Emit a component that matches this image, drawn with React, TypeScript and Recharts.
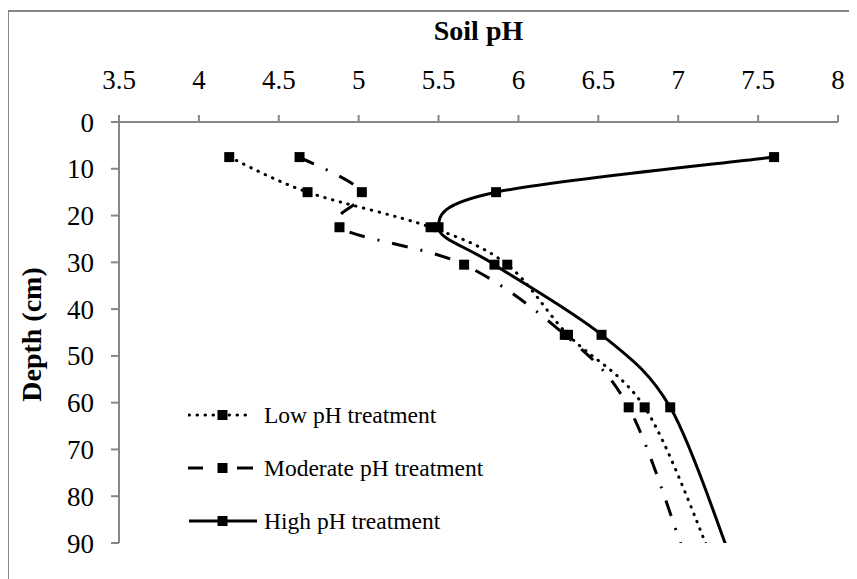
import React from 'react';
import { LineChart, Line, XAxis, YAxis, Legend, Label } from 'recharts';

// ---- data ----
const depths = [7.5, 15, 22.5, 30.5, 45.5, 61, 91.5];
const lowPH = [4.19, 4.68, 5.45, 5.93, 6.31, 6.79, 7.19];
const moderatePH = [4.63, 5.02, 4.88, 5.66, 6.29, 6.69, 7.03];
const highPH = [7.6, 5.86, 5.5, 5.85, 6.52, 6.95, 7.31];
const markedCount = 6; // last row only continues the line to the bottom edge
const phTicks = [3.5, 4, 4.5, 5, 5.5, 6, 6.5, 7, 7.5, 8];
const depthTicks = [0, 10, 20, 30, 40, 50, 60, 70, 80, 90];
const seriesKeys = ['low', 'moderate', 'high'];
const seriesNames = ['Low pH treatment', 'Moderate pH treatment', 'High pH treatment'];

const rows = depths.map((d, i) => ({
  depth: d,
  low: lowPH[i],
  moderate: moderatePH[i],
  high: highPH[i],
}));

const FONT = '"Liberation Serif", "Times New Roman", serif';
const AXIS_GRAY = '#868686';

const dashStyles: Record<string, { dash?: string; cap: 'round' | 'butt' }> = {
  low: { dash: '0.5 7.5', cap: 'round' },
  moderate: { dash: '16 13 2 13', cap: 'butt' },
  high: { dash: undefined, cap: 'butt' },
};

// Excel-like smoothed line (Catmull-Rom through points)
function excelSmooth(context: any) {
  let pts: [number, number][] = [];
  return {
    areaStart() {},
    areaEnd() {},
    lineStart() {
      pts = [];
    },
    lineEnd() {
      const n = pts.length;
      if (n === 0) return;
      context.moveTo(pts[0][0], pts[0][1]);
      for (let i = 0; i < n - 1; i++) {
        const p0 = pts[Math.max(0, i - 1)];
        const p1 = pts[i];
        const p2 = pts[i + 1];
        const p3 = pts[Math.min(n - 1, i + 2)];
        context.bezierCurveTo(
          p1[0] + (p2[0] - p0[0]) / 6,
          p1[1] + (p2[1] - p0[1]) / 6,
          p2[0] - (p3[0] - p1[0]) / 6,
          p2[1] - (p3[1] - p1[1]) / 6,
          p2[0],
          p2[1]
        );
      }
    },
    point(x: number, y: number) {
      pts.push([+x, +y]);
    },
  };
}

const makeDot = (key: string) => (props: any) => {
  const { cx, cy, index } = props;
  if (index >= markedCount || cx == null || cy == null) {
    return <g key={`${key}-${index}`} />;
  }
  return <rect key={`${key}-${index}`} x={cx - 5} y={cy - 5} width={10} height={10} fill="#000" />;
};

const LegendBox = () => (
  <div style={{ fontFamily: FONT, fontSize: 23.5, color: '#000' }}>
    {seriesKeys.map((k, i) => {
      const st = dashStyles[k];
      return (
        <div key={k} style={{ display: 'flex', alignItems: 'center', height: 53 }}>
          <svg width={70} height={14} style={{ display: 'block' }}>
            {k === 'moderate' ? (
              <g stroke="#000" strokeWidth={3}>
                <line x1={0} y1={7} x2={15} y2={7} />
                <line x1={49} y1={7} x2={65} y2={7} />
              </g>
            ) : (
              <line
                x1={1}
                y1={7}
                x2={k === 'high' ? 69 : 65}
                y2={7}
                stroke="#000"
                strokeWidth={3}
                strokeDasharray={st.dash}
                strokeLinecap={st.cap}
              />
            )}
            <rect x={29.5} y={2} width={10} height={10} fill="#000" />
          </svg>
          <span style={{ marginLeft: 6, whiteSpace: 'nowrap' }}>{seriesNames[i]}</span>
        </div>
      );
    })}
  </div>
);

export default function App() {
  return (
    <div>
      <style>{`body{margin:8px;overflow:hidden;background:#fff}`}</style>
      <div
        style={{
          width: 900,
          height: 620,
          marginTop: 2,
          marginLeft: -1,
          border: `2px solid ${AXIS_GRAY}`,
          boxSizing: 'border-box',
          position: 'relative',
          background: '#fff',
        }}
      >
        <LineChart
          width={880}
          height={600}
          data={rows}
          layout="vertical"
          margin={{ top: 20, right: 51, bottom: 69, left: 20 }}
        >
          <XAxis
            type="number"
            orientation="top"
            domain={[3.5, 8]}
            ticks={phTicks}
            interval={0}
            height={90}
            tickSize={7}
            tickMargin={26}
            axisLine={{ stroke: AXIS_GRAY, strokeWidth: 2 }}
            tickLine={{ stroke: AXIS_GRAY, strokeWidth: 2 }}
            tick={{ fill: '#000', fontSize: 27, fontFamily: FONT }}
          >
            <Label
              content={(p: any) => {
                const vb = p.viewBox || {};
                return (
                  <text
                    x={vb.x + vb.width / 2}
                    y={vb.y + 8}
                    textAnchor="middle"
                    fontFamily={FONT}
                    fontWeight="bold"
                    fontSize={28}
                    fill="#000"
                  >
                    Soil pH
                  </text>
                );
              }}
            />
          </XAxis>
          <YAxis
            type="number"
            dataKey="depth"
            domain={[0, 90]}
            ticks={depthTicks}
            interval={0}
            allowDataOverflow
            width={90}
            tickSize={8}
            tickMargin={17}
            axisLine={{ stroke: AXIS_GRAY, strokeWidth: 2 }}
            tickLine={{ stroke: AXIS_GRAY, strokeWidth: 2 }}
            tick={{ fill: '#000', fontSize: 27, fontFamily: FONT }}
          >
            <Label
              content={(p: any) => {
                const vb = p.viewBox || {};
                const cx = vb.x + 2;
                const cy = vb.y + vb.height / 2 + 2;
                return (
                  <text
                    x={cx}
                    y={cy}
                    transform={`rotate(-90 ${cx} ${cy})`}
                    textAnchor="middle"
                    dominantBaseline="central"
                    fontFamily={FONT}
                    fontWeight="bold"
                    fontSize={28}
                    fill="#000"
                  >
                    Depth (cm)
                  </text>
                );
              }}
            />
          </YAxis>
          <Legend
            layout="vertical"
            align="center"
            verticalAlign="middle"
            content={() => <LegendBox />}
            wrapperStyle={{ left: 179, top: 376.5, width: 330, height: 160 }}
          />
          {seriesKeys.map((k, i) => (
            <Line
              key={k}
              dataKey={k}
              name={seriesNames[i]}
              type={excelSmooth as any}
              stroke="#000"
              strokeWidth={3}
              strokeDasharray={dashStyles[k].dash}
              strokeLinecap={dashStyles[k].cap}
              dot={makeDot(k)}
              activeDot={false}
              isAnimationActive={false}
            />
          ))}
        </LineChart>
      </div>
    </div>
  );
}
